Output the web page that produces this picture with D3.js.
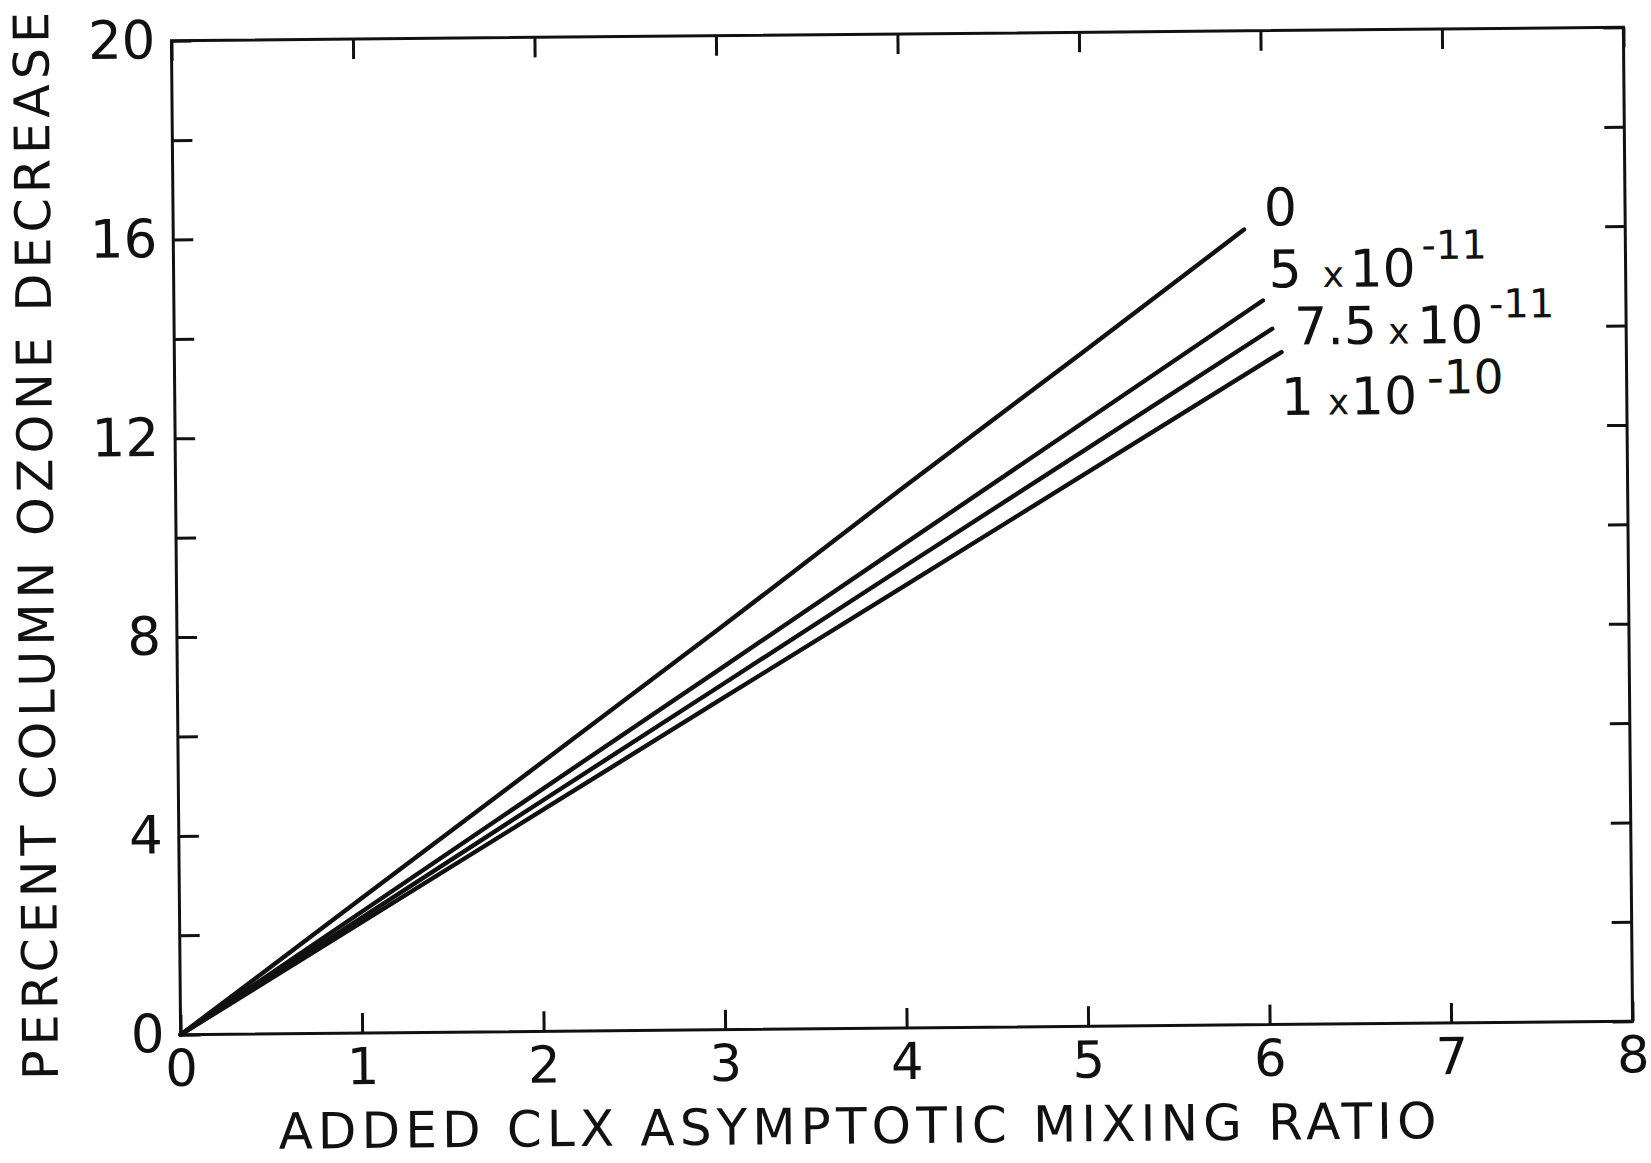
<!DOCTYPE html>
<html>
<head>
<meta charset="utf-8">
<script src="https://cdn.jsdelivr.net/npm/d3@7"></script>
<style>
  html, body { margin: 0; padding: 0; background: #fff; }
  svg { display: block; }
  text { font-family: "DejaVu Sans", sans-serif; fill: #111; }
</style>
</head>
<body>
<div id="chart"></div>
<script>
const W = 1651, H = 1163;
const frame = { left: 176, right: 1628, top: 34, bottom: 1028 };

// axis ticks
const xTicks = [0, 1, 2, 3, 4, 5, 6, 7, 8];
const yTicks = [0, 2, 4, 6, 8, 10, 12, 14, 16, 18, 20];
const yLabels = [0, 4, 8, 12, 16, 20];

// curves, one per background CLX value
const seriesMain = ["0", "5", "7.5", "1"];
const seriesExp = ["", "-11", "-11", "-10"];
const xZero = [0, 1, 2, 3, 4, 5, 5.9];
const yZero = [0, 2.7, 5.4, 8.1, 10.85, 13.55, 16.0];
const x5 = [0, 1, 2, 3, 4, 5, 6];
const y5 = [0, 2.43, 4.86, 7.28, 9.71, 12.14, 14.57];
const x75 = [0, 1, 2, 3, 4, 5, 6.05];
const y75 = [0, 2.31, 4.63, 6.94, 9.26, 11.57, 14.0];
const x10 = [0, 1, 2, 3, 4, 5, 6.1];
const y10 = [0, 2.22, 4.44, 6.66, 8.87, 11.09, 13.53];

const series = [
  { xs: xZero, ys: yZero },
  { xs: x5, ys: y5 },
  { xs: x75, ys: y75 },
  { xs: x10, ys: y10 },
];

// label layout (px from curve end): offset, piece x positions, exponent shift/size
const labelLayout = [
  { dx: 20, dy: -4, px: [0], supDy: 0, supSize: 40 },
  { dx: 6, dy: -13, px: [0, 54, 81, 153], supDy: -27, supSize: 40 },
  { dx: 22, dy: 16, px: [0, 94, 123, 195], supDy: -25, supSize: 40 },
  { dx: -1, dy: 63, px: [0, 47, 70, 146], supDy: -20, supSize: 47 },
];

const svg = d3
  .select("#chart")
  .append("svg")
  .attr("width", W)
  .attr("height", H);

// the scanned figure sits slightly tilted
const g = svg.append("g").attr("transform", "rotate(-0.53, 902, 530.5)");

const x = d3.scaleLinear().domain([0, 8]).range([frame.left, frame.right]);
const y = d3.scaleLinear().domain([0, 20]).range([frame.bottom, frame.top]);

const ink = "#111";
const tick = 20;

function styleAxis(sel) {
  sel.select(".domain").remove();
  sel.selectAll(".tick line").attr("stroke", ink).attr("stroke-width", 3);
}

g.append("g")
  .attr("transform", `translate(0,${frame.bottom})`)
  .call(d3.axisBottom(x).tickValues(xTicks).tickSize(-tick).tickPadding(15).tickFormat(d3.format("d")))
  .call(styleAxis)
  .call((s) => s.selectAll("text").attr("font-size", 51).attr("font-family", "DejaVu Sans").attr("fill", ink));

g.append("g")
  .attr("transform", `translate(0,${frame.top})`)
  .call(d3.axisTop(x).tickValues(xTicks).tickSize(-tick).tickFormat(""))
  .call(styleAxis);

g.append("g")
  .attr("transform", `translate(${frame.left},0)`)
  .call(
    d3.axisLeft(y).tickValues(yTicks).tickSize(-tick).tickPadding(16)
      .tickFormat((d) => (yLabels.includes(d) ? d : ""))
  )
  .call(styleAxis)
  .call((s) => s.selectAll("text").attr("font-size", 53).attr("font-family", "DejaVu Sans").attr("fill", ink));

g.append("g")
  .attr("transform", `translate(${frame.right},0)`)
  .call(d3.axisRight(y).tickValues(yTicks).tickSize(-tick).tickFormat(""))
  .call(styleAxis);

// frame
g.append("rect")
  .attr("x", frame.left)
  .attr("y", frame.top)
  .attr("width", frame.right - frame.left)
  .attr("height", frame.bottom - frame.top)
  .attr("fill", "none")
  .attr("stroke", ink)
  .attr("stroke-width", 3);

const line = d3
  .line()
  .x((d) => x(d[0]))
  .y((d) => y(d[1]));

series.forEach((s, i) => {
  const pts = s.xs.map((v, k) => [v, s.ys[k]]);
  g.append("path")
    .attr("d", line(pts))
    .attr("fill", "none")
    .attr("stroke", ink)
    .attr("stroke-width", 4.4)
    .attr("stroke-linecap", "round");

  const L = labelLayout[i];
  const ex = x(s.xs[s.xs.length - 1]) + L.dx;
  const ey = y(s.ys[s.ys.length - 1]) + L.dy;
  const t = g.append("text").attr("font-size", 52);
  t.append("tspan").attr("x", ex + L.px[0]).attr("y", ey).text(seriesMain[i]);
  if (seriesExp[i]) {
    t.append("tspan").attr("x", ex + L.px[1]).attr("y", ey).attr("font-size", 36).text("x");
    t.append("tspan").attr("x", ex + L.px[2]).attr("y", ey).text("10");
    t.append("tspan")
      .attr("x", ex + L.px[3])
      .attr("y", ey + L.supDy)
      .attr("font-size", L.supSize)
      .text(seriesExp[i]);
  }
});

// axis titles
g.append("text")
  .attr("x", 852)
  .attr("y", 1143)
  .attr("text-anchor", "middle")
  .attr("font-size", 50)
  .attr("textLength", 1158)
  .attr("lengthAdjust", "spacing")
  .text("ADDED CLX ASYMPTOTIC MIXING RATIO");

g.append("text")
  .attr("transform", "translate(53,538) rotate(-90)")
  .attr("text-anchor", "middle")
  .attr("font-size", 49)
  .attr("textLength", 1068)
  .attr("lengthAdjust", "spacing")
  .text("PERCENT COLUMN OZONE DECREASE");
</script>
</body>
</html>
